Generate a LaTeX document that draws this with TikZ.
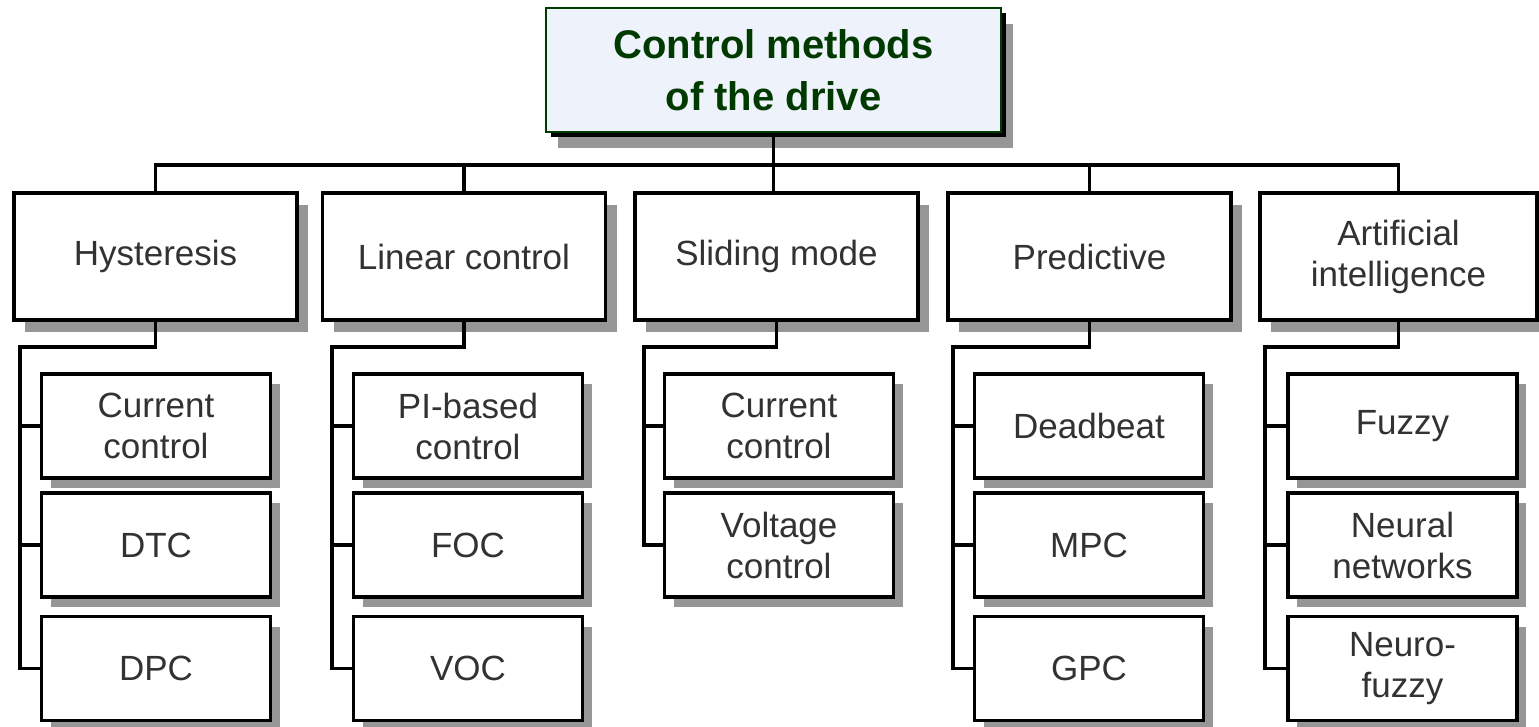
\documentclass[tikz,border=0pt]{standalone}
\usepackage{fontspec}
\setmainfont{Liberation Sans}
\usetikzlibrary{shadows}
\definecolor{shadowgray}{RGB}{150,150,150}
\definecolor{topgreen}{RGB}{0,58,0}
\definecolor{topfill}{RGB}{238,242,250}
\definecolor{txtgray}{RGB}{50,50,50}
\begin{document}
\begin{tikzpicture}[x=1pt,y=-1pt,
  conn/.style={draw=black,line width=3.2pt},
  topbox/.style={draw=topgreen,fill=topfill,line width=2.2pt,
    minimum width=455pt,minimum height=124pt,inner sep=0pt,
    align=center,text=topgreen,
    font=\fontsize{40}{52}\selectfont\bfseries,
    drop shadow={shadow xshift=12pt,shadow yshift=-16pt,fill=shadowgray,opacity=1},
    general shadow={shadow xshift=5pt,shadow yshift=-5pt,fill=black}},
  catbox/.style={draw=black,fill=white,line width=3.2pt,
    minimum width=283pt,minimum height=127pt,inner sep=0pt,
    align=center,text=txtgray,
    font=\fontsize{35}{41}\selectfont,
    drop shadow={shadow xshift=11pt,shadow yshift=-12pt,fill=shadowgray,opacity=1}},
  leafbox/.style={draw=black,fill=white,line width=3.2pt,
    minimum width=229pt,minimum height=104pt,inner sep=0pt,
    align=center,text=txtgray,
    font=\fontsize{35}{41}\selectfont,
    drop shadow={shadow xshift=9pt,shadow yshift=-10pt,fill=shadowgray,opacity=1}}]
\useasboundingbox (0,0) rectangle (1539,727);

% root
\node[topbox] (root) at (773.5,70) {Control methods\\of the drive};

% categories
\node[catbox] (H) at (155.5,256.5) {Hysteresis};
\node[catbox] (L) at (464,256.5) {Linear control};
\node[catbox] (S) at (776.5,256.5) {Sliding mode};
\node[catbox] (P) at (1089.5,256.5) {Predictive};
\node[catbox,minimum width=277pt] (A) at (1398.5,256.5) {Artificial\\intelligence};

% leaves
\node[leafbox] (H1) at (156,426) {Current\\control};
\node[leafbox] (H2) at (156,545) {DTC};
\node[leafbox] (H3) at (156,668.5) {DPC};

\node[leafbox] (L1) at (468,426) {PI-based\\control};
\node[leafbox] (L2) at (468,545) {FOC};
\node[leafbox] (L3) at (468,668.5) {VOC};

\node[leafbox] (S1) at (779,426) {Current\\control};
\node[leafbox] (S2) at (779,545) {Voltage\\control};

\node[leafbox] (P1) at (1089,426) {Deadbeat};
\node[leafbox] (P2) at (1089,545) {MPC};
\node[leafbox] (P3) at (1089,668.5) {GPC};

\node[leafbox] (A1) at (1402.5,426) {Fuzzy};
\node[leafbox] (A2) at (1402.5,545) {Neural\\networks};
\node[leafbox] (A3) at (1402.5,668.5) {Neuro-\\fuzzy};

% top-level bus
\coordinate (bus) at (773.5,165);
\draw[conn] (root.south) -- (root.south |- S.north);
\draw[conn] (H.north) |- (bus) -| (A.north);
\draw[conn] (L.north) -- (L.north |- bus);
\draw[conn] (P.north) -- (P.north |- bus);

% column buses
\coordinate (hv) at (20,347);
\coordinate (lv) at (332,347);
\coordinate (sv) at (644,347);
\coordinate (pv) at (953,347);
\coordinate (av) at (1265,347);

\draw[conn] (H.south) |- (hv) |- (H3.west);
\draw[conn] (H1.west) -- (H1.west -| hv);
\draw[conn] (H2.west) -- (H2.west -| hv);

\draw[conn] (L.south) |- (lv) |- (L3.west);
\draw[conn] (L1.west) -- (L1.west -| lv);
\draw[conn] (L2.west) -- (L2.west -| lv);

\draw[conn] (S.south) |- (sv) |- (S2.west);
\draw[conn] (S1.west) -- (S1.west -| sv);

\draw[conn] (P.south) |- (pv) |- (P3.west);
\draw[conn] (P1.west) -- (P1.west -| pv);
\draw[conn] (P2.west) -- (P2.west -| pv);

\draw[conn] (A.south) |- (av) |- (A3.west);
\draw[conn] (A1.west) -- (A1.west -| av);
\draw[conn] (A2.west) -- (A2.west -| av);
\end{tikzpicture}
\end{document}
